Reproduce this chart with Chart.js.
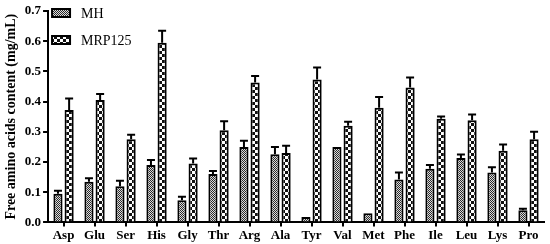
<!DOCTYPE html>
<html>
<head>
<meta charset="utf-8">
<script src="https://cdn.jsdelivr.net/npm/chart.js@4.4.1/dist/chart.umd.min.js"></script>
<style>
  html, body { margin: 0; padding: 0; background: #fff; }
  #wrap { width: 550px; height: 244px; }
</style>
</head>
<body>
<div id="wrap"><canvas id="aaChart" width="550" height="244"></canvas></div>
<script>
// data
const aminoAcids = ['Asp', 'Glu', 'Ser', 'His', 'Gly', 'Thr', 'Arg', 'Ala', 'Tyr', 'Val', 'Met', 'Phe', 'Ile', 'Leu', 'Lys', 'Pro'];
const mhValues = [0.095, 0.135, 0.12, 0.19, 0.073, 0.16, 0.25, 0.226, 0.018, 0.25, 0.03, 0.142, 0.178, 0.213, 0.165, 0.04];
const mhErrTop = [0.105, 0.146, 0.138, 0.207, 0.085, 0.17, 0.27, 0.25, 0.02, 0.25, 0.03, 0.165, 0.19, 0.225, 0.183, 0.045];
const mrpValues = [0.372, 0.405, 0.275, 0.595, 0.195, 0.305, 0.463, 0.23, 0.473, 0.32, 0.38, 0.447, 0.343, 0.338, 0.237, 0.275];
const mrpErrTop = [0.41, 0.425, 0.29, 0.635, 0.212, 0.335, 0.485, 0.254, 0.513, 0.333, 0.415, 0.48, 0.351, 0.357, 0.258, 0.30];
const yTicks = [0, 0.1, 0.2, 0.3, 0.4, 0.5, 0.6, 0.7];

const serif = '"Liberation Serif", "Times New Roman", serif';

// fill patterns
function makePattern(size, cell, dark, light) {
    const c = document.createElement('canvas');
    c.width = size; c.height = size;
    const g = c.getContext('2d');
    g.fillStyle = light;
    g.fillRect(0, 0, size, size);
    g.fillStyle = dark;
    for (let y = 0; y < size; y += cell) {
        for (let x = 0; x < size; x += cell) {
            if (((x + y) / cell) % 2 === 0) g.fillRect(x, y, cell, cell);
        }
    }
    return g.createPattern(c, 'repeat');
}
const ctx = document.getElementById('aaChart').getContext('2d');
const mhFill = makePattern(4, 1, '#2a2a2a', '#dcdcdc');
const mrpFill = makePattern(6, 3, '#111', '#fff');

const errorBars = {
    id: 'errorBars',
    afterDatasetsDraw(chart) {
        const c = chart.ctx;
        const y = chart.scales.y;
        chart.data.datasets.forEach((ds, i) => {
            const meta = chart.getDatasetMeta(i);
            meta.data.forEach((bar, j) => {
                const top = y.getPixelForValue(ds.errTop[j]);
                if (bar.y - top < 1) return;
                c.save();
                c.strokeStyle = '#000';
                c.lineWidth = 2;
                c.beginPath();
                c.moveTo(bar.x, bar.y);
                c.lineTo(bar.x, top);
                c.moveTo(bar.x - 4, top);
                c.lineTo(bar.x + 4, top);
                c.stroke();
                c.restore();
            });
        });
    }
};

const insideLegend = {
    id: 'insideLegend',
    afterDraw(chart) {
        const c = chart.ctx;
        const left = chart.chartArea.left;
        chart.data.datasets.forEach((ds, i) => {
            const ty = 13 + i * 27;
            c.save();
            c.fillStyle = ds.backgroundColor;
            c.fillRect(left + 4, ty - 4, 18, 8);
            c.strokeStyle = '#000';
            c.lineWidth = 2;
            c.strokeRect(left + 4, ty - 4, 18, 8);
            c.fillStyle = '#000';
            c.font = '14px ' + serif;
            c.textBaseline = 'middle';
            c.fillText(ds.label, left + 33, ty + 1);
            c.restore();
        });
    }
};

const chartConfig = {
    type: 'bar',
    data: {
        labels: aminoAcids,
        datasets: [
            {
                label: 'MH',
                data: mhValues,
                errTop: mhErrTop,
                backgroundColor: mhFill,
                borderColor: '#000',
                borderWidth: 2
            },
            {
                label: 'MRP125',
                data: mrpValues,
                errTop: mrpErrTop,
                backgroundColor: mrpFill,
                borderColor: '#000',
                borderWidth: 2
            }
        ]
    },
    options: {
        responsive: false,
        animation: false,
        categoryPercentage: 0.72,
        barPercentage: 0.82,
        layout: { padding: { left: 3, right: 6, top: 11, bottom: 0 } },
        plugins: {
            legend: { display: false },
            tooltip: { enabled: false }
        },
        scales: {
            x: {
                border: { color: '#000', width: 2 },
                grid: { display: true, drawOnChartArea: false, offset: false, tickLength: 4, color: '#000', lineWidth: 2 },
                ticks: { color: '#000', font: { family: serif, size: 13, weight: 'bold' }, padding: 1 }
            },
            y: {
                min: 0,
                max: 0.7,
                afterBuildTicks: axis => { axis.ticks = yTicks.map(v => ({ value: v })); },
                border: { color: '#000', width: 2 },
                grid: { display: true, drawOnChartArea: false, tickLength: 5, color: '#000', lineWidth: 2 },
                ticks: {
                    color: '#000',
                    font: { family: serif, size: 13, weight: 'bold' },
                    padding: 2,
                    callback: v => Number(v).toFixed(1)
                },
                title: {
                    display: true,
                    text: 'Free amino acids content (mg/mL)',
                    color: '#000',
                    font: { family: serif, size: 14, weight: 'bold' },
                    padding: { top: 0, bottom: 3 }
                }
            }
        }
    },
    plugins: [errorBars, insideLegend]
};

const aaChart = new Chart(ctx, chartConfig);
</script>
</body>
</html>
